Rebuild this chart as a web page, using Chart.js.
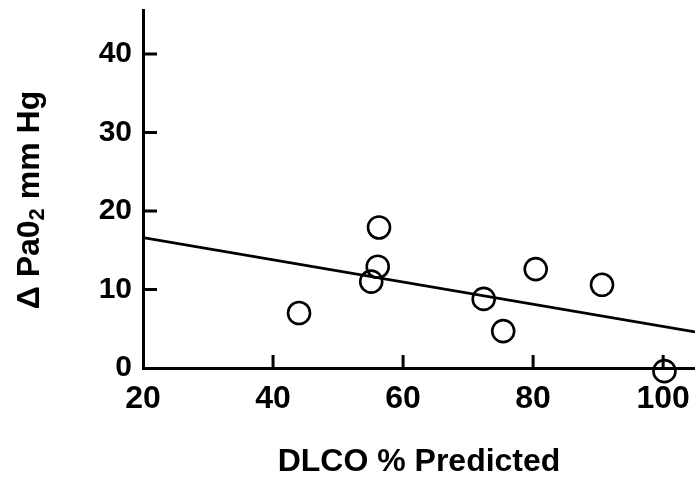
<!DOCTYPE html>
<html>
<head>
<meta charset="utf-8">
<script src="https://cdn.jsdelivr.net/npm/chart.js@4.4.0/dist/chart.umd.min.js"></script>
<style>
  html, body { margin: 0; padding: 0; background: #fff; }
  #wrap { width: 695px; height: 483px; }
</style>
</head>
<body>
<div id="wrap"><canvas id="chart"></canvas></div>
<script>
// values
const dlco = [44, 55.1, 56.1, 56.3, 72.4, 75.4, 80.4, 90.6, 100.2];
const dPaO2 = [7.0, 11.0, 12.9, 17.9, 8.8, 4.7, 12.6, 10.6, -0.4];
const fitX = [20, 104.9];
const fitY = [16.6, 4.6];
const xTicks = [20, 40, 60, 80, 100];
const yTicks = [0, 10, 20, 30, 40];

const FONT = '"Liberation Sans", Arial, Helvetica, sans-serif';

// tick marks point into the plot, so draw them from the scales ourselves
const innerTicks = {
  id: 'innerTicks',
  afterDatasetsDraw(chart) {
    const { ctx, scales: { x, y } } = chart;
    ctx.save();
    ctx.strokeStyle = '#000';
    ctx.lineWidth = 3;
    ctx.beginPath();
    xTicks.slice(1).forEach(v => {
      const px = x.getPixelForValue(v);
      ctx.moveTo(px, y.bottom);
      ctx.lineTo(px, y.bottom - 13);
    });
    yTicks.slice(1).forEach(v => {
      const py = y.getPixelForValue(v);
      ctx.moveTo(x.left, py);
      ctx.lineTo(x.left + 14, py);
    });
    ctx.stroke();
    ctx.restore();
  }
};

// y title has a subscript, so draw it by hand
const yTitle = {
  id: 'yTitle',
  afterDraw(chart) {
    const ctx = chart.ctx;
    const parts = [
      { t: '\u0394 Pa0', size: 32, dy: 0 },
      { t: '2', size: 22, dy: 8 },
      { t: ' mm Hg', size: 32, dy: 0 }
    ];
    ctx.save();
    ctx.translate(30, 200);
    ctx.rotate(-Math.PI / 2);
    ctx.fillStyle = '#000';
    ctx.textBaseline = 'middle';
    let total = 0;
    parts.forEach(p => {
      ctx.font = 'bold ' + p.size + 'px ' + FONT;
      p.w = ctx.measureText(p.t).width;
      total += p.w;
    });
    let cx = -total / 2;
    parts.forEach(p => {
      ctx.font = 'bold ' + p.size + 'px ' + FONT;
      ctx.fillText(p.t, cx, p.dy);
      cx += p.w;
    });
    ctx.restore();
  }
};

new Chart(document.getElementById('chart'), {
  type: 'scatter',
  data: {
    datasets: [
      {
        data: dlco.map((v, i) => ({ x: v, y: dPaO2[i] })),
        pointStyle: 'circle',
        pointRadius: 11,
        pointBorderWidth: 2.6,
        pointBorderColor: '#000',
        pointBackgroundColor: 'rgba(0,0,0,0)',
        clip: false
      },
      {
        type: 'line',
        data: fitX.map((v, i) => ({ x: v, y: fitY[i] })),
        borderColor: '#000',
        borderWidth: 2.8,
        pointRadius: 0,
        fill: false
      }
    ]
  },
  options: {
    responsive: true,
    maintainAspectRatio: false,
    animation: false,
    layout: { autoPadding: false, padding: { top: 10, right: 0, left: 0, bottom: 0 } },
    plugins: {
      legend: { display: false },
      tooltip: { enabled: false }
    },
    scales: {
      x: {
        type: 'linear',
        min: 20,
        max: 104.9,
        afterBuildTicks: s => { s.ticks = xTicks.map(v => ({ value: v })); },
        afterFit: s => {
          s.height = 115;
          s.paddingLeft = 0;
          s.paddingRight = 0;
        },
        grid: { display: false, drawTicks: false },
        border: { display: true, color: '#000', width: 3 },
        ticks: {
          color: '#000',
          padding: 12,
          maxRotation: 0,
          font: { family: FONT, size: 32, weight: 'bold' }
        },
        title: {
          display: true,
          text: 'DLCO % Predicted',
          color: '#000',
          padding: { top: 0, bottom: 2 },
          font: { family: FONT, size: 32, weight: 'bold' }
        }
      },
      y: {
        type: 'linear',
        min: 0,
        max: 45.6,
        afterBuildTicks: s => { s.ticks = yTicks.map(v => ({ value: v })); },
        afterFit: s => {
          s.width = 143;
          s.paddingTop = 0;
          s.paddingBottom = 0;
        },
        grid: { display: false, drawTicks: false },
        border: { display: true, color: '#000', width: 3 },
        ticks: {
          color: '#000',
          padding: 11,
          font: { family: FONT, size: 30, weight: 'bold' }
        }
      }
    }
  },
  plugins: [innerTicks, yTitle]
});
</script>
</body>
</html>
